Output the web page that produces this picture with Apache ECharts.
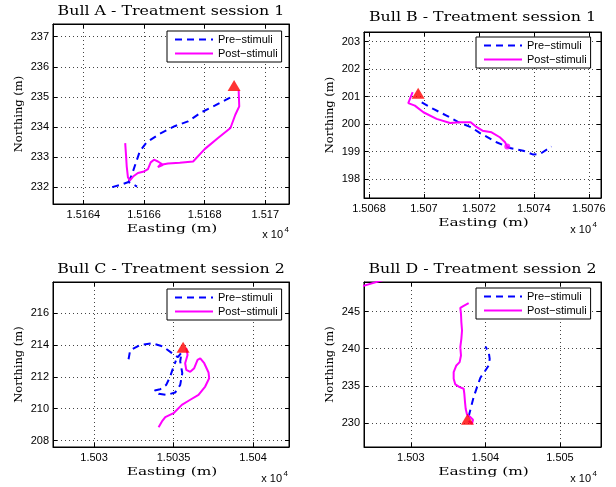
<!DOCTYPE html>
<html>
<head>
<meta charset="utf-8">
<script src="https://cdn.jsdelivr.net/npm/echarts@6/dist/echarts.min.js"></script>
<style>
html, body { margin: 0; padding: 0; background: #fff; }
#chart { width: 616px; height: 487px; }
</style>
</head>
<body>
<div id="chart"></div>
<script>
const seriesNames = ['Pre−stimuli', 'Post−stimuli']
const titles = [
  'Bull A - Treatment session 1',
  'Bull B - Treatment session 1',
  'Bull C - Treatment session 2',
  'Bull D - Treatment session 2'
]
const gap = ['-', '-']

// Bull A (easting, northing in m)
const aPre = [
  [15164.95, 232.01], [15165.25, 232.09], [15165.49, 232.18], [15165.77, 232.03], gap,
  [15165.49, 232.18], [15165.60, 232.42], [15165.71, 232.75], [15165.86, 233.19], [15166.08, 233.49],
  [15166.52, 233.78], [15167.01, 234.03], [15167.45, 234.19], [15167.89, 234.49], [15168.33, 234.71],
  [15168.71, 234.91], [15168.93, 235.02]
]
const aPost = [
  [15169.12, 235.22], [15169.14, 234.69], [15169.01, 234.41], [15168.85, 233.97], [15168.44, 233.64],
  [15168.00, 233.27], [15167.62, 232.86], [15167.18, 232.82], [15166.79, 232.79], [15166.52, 232.74],
  [15166.46, 232.67], [15166.63, 232.75], [15166.46, 232.86], [15166.33, 232.92], [15166.22, 232.83],
  [15166.13, 232.61], [15166.00, 232.53], [15165.80, 232.48], [15165.64, 232.36], [15165.53, 232.23],
  [15165.47, 232.34], [15165.43, 232.70], [15165.41, 233.03], [15165.38, 233.47]
]
const aStart = [[15168.97, 235.38]]
const aXTicks = [15164, 15166, 15168, 15170]
const aYTicks = [232, 233, 234, 235, 236, 237]

// Bull B
const bPre = [
  [15069.92, 200.79], [15070.34, 200.55], [15070.82, 200.31], [15071.25, 200.07], [15071.73, 199.88],
  [15072.04, 199.67], [15072.64, 199.34], [15073.13, 199.13], [15073.61, 199.03], [15073.98, 198.89],
  [15074.22, 198.91], [15074.64, 199.18]
]
const bPost = [
  [15069.59, 201.16], [15069.43, 200.76], [15069.67, 200.67], [15069.98, 200.43], [15070.46, 200.19],
  [15070.95, 200.04], [15071.31, 200.07], [15071.70, 200.07], [15071.89, 199.91], [15072.13, 199.76],
  [15072.46, 199.70], [15072.76, 199.52], [15072.95, 199.34], [15073.03, 199.16]
]
const bStart = [[15069.79, 201.12]]
const bEnd = [[15073.03, 199.18]]
const bXTicks = [15068, 15070, 15072, 15074, 15076]
const bYTicks = [198, 199, 200, 201, 202, 203]

// Bull C
const cPre = [
  [15032.17, 213.10], [15032.27, 213.65], [15032.90, 214.00], [15033.64, 214.10], [15034.33, 213.90],
  [15034.90, 213.48], [15035.27, 213.23], [15035.50, 213.52], [15035.42, 212.96], [15035.55, 212.23],
  [15035.42, 211.49], [15035.10, 211.01], [15034.58, 210.87], [15034.06, 210.93], [15033.81, 211.14],
  [15034.16, 211.22], [15034.54, 211.49], [15034.79, 212.02], [15035.00, 212.64], [15035.15, 213.02]
]
const cPost = [
  [15035.80, 213.79], [15035.88, 213.37], [15035.73, 212.85], [15035.80, 212.43], [15036.05, 212.31],
  [15036.30, 212.54], [15036.51, 213.06], [15036.68, 213.16], [15036.93, 212.85], [15037.20, 212.27],
  [15037.24, 211.91], [15036.99, 211.39], [15036.57, 210.87], [15036.05, 210.56], [15035.52, 210.24],
  [15035.00, 209.72], [15034.48, 209.47], [15034.27, 209.20], [15034.06, 208.84]
]
const cStart = [[15035.6, 213.85]]
const cXTicks = [15030, 15035, 15040]
const cYTicks = [208, 210, 212, 214, 216]

// Bull D
const dPre = [
  [15037.76, 230.87], [15038.08, 232.13], [15038.43, 233.48], [15038.88, 234.82], [15039.33, 236.08],
  [15040.00, 237.06], [15040.45, 237.74], [15040.58, 238.63], [15040.45, 239.53], [15040.00, 240.29]
]
const dPost = [
  [15037.76, 230.25], [15038.21, 229.89], [15038.34, 230.43], [15037.90, 230.87], [15037.54, 231.14],
  [15037.36, 231.91], [15037.27, 232.80], [15037.18, 233.92], [15037.09, 234.60], [15036.55, 234.82],
  [15035.97, 235.18], [15035.75, 235.94], [15035.75, 236.84], [15036.11, 237.74], [15036.55, 238.18],
  [15036.73, 239.08], [15036.64, 240.20], [15036.78, 241.32], [15036.87, 242.44], [15036.78, 243.57],
  [15036.73, 244.69], [15036.64, 245.49], [15037.09, 245.76], [15037.76, 246.12], gap,
  [15022.5, 248.1], [15026.5, 249.3]
]
const dStart = [[15037.6, 230.5]]
const dXTicks = [15030, 15040, 15050]
const dYTicks = [230, 235, 240, 245]

const panels = [
  { box: [53, 24, 236, 180], x: [15163.0, 15170.78], y: [231.45, 237.42], xt: aXTicks, yt: aYTicks,
    legend: [167, 31], titleY: 12, expo: [283, 235], pre: aPre, post: aPost, start: aStart },
  { box: [364, 32, 237, 166], x: [15067.82, 15076.44], y: [197.31, 203.35], xt: bXTicks, yt: bYTicks,
    legend: [476, 37], titleY: 18, expo: [591, 230], pre: bPre, post: bPost, start: bStart, end: bEnd },
  { box: [53, 282, 236, 165], x: [15027.42, 15042.26], y: [207.6, 217.94], xt: cXTicks, yt: cYTicks,
    legend: [167, 289], titleY: 270, expo: [282, 479], pre: cPre, post: cPost, start: cStart },
  { box: [364, 282, 237, 165], x: [15023.73, 15055.5], y: [226.76, 248.97], xt: dXTicks, yt: dYTicks,
    legend: [476, 288], titleY: 270, expo: [591, 479], pre: dPre, post: dPost, start: dStart }
]

const serif = 'DejaVu Serif'
const sans = 'Liberation Sans'
const axisLine = { show: true, onZero: false, lineStyle: { color: '#000', width: 1 } }
const gridLine = { show: true, lineStyle: { type: [1, 3], color: '#444', width: 1 } }

const grid = []
const xAxis = []
const yAxis = []
const legend = []
const series = []
const graphic = []

panels.forEach((p, i) => {
  const [left, top, w, h] = p.box
  grid.push({ left, top, width: w, height: h,
    show: true, borderColor: '#000', borderWidth: 1, backgroundColor: '#fff' })

  xAxis.push({
    gridIndex: i, type: 'value', position: 'bottom', min: p.x[0], max: p.x[1],
    axisLine,
    axisTick: { inside: true, length: 4, customValues: p.xt, lineStyle: { color: '#000' } },
    axisLabel: { customValues: p.xt, formatter: v => String(v / 1e4), fontFamily: sans, fontSize: 11, color: '#000', margin: 5 },
    splitLine: gridLine
  })
  xAxis.push({
    gridIndex: i, type: 'value', position: 'top', min: p.x[0], max: p.x[1], axisLine,
    axisTick: { inside: true, length: 4, customValues: p.xt, lineStyle: { color: '#000' } },
    axisLabel: { show: false }, splitLine: { show: false }
  })
  yAxis.push({
    gridIndex: i, type: 'value', position: 'left', min: p.y[0], max: p.y[1],
    name: 'Northing (m)', nameLocation: 'middle', nameGap: 28,
    nameTextStyle: { fontFamily: serif, fontSize: 11.5, color: '#000' },
    axisLine,
    axisTick: { inside: true, length: 4, customValues: p.yt, lineStyle: { color: '#000' } },
    axisLabel: { customValues: p.yt, fontFamily: sans, fontSize: 11, color: '#000', margin: 4 },
    splitLine: gridLine
  })
  yAxis.push({
    gridIndex: i, type: 'value', position: 'right', min: p.y[0], max: p.y[1], axisLine,
    axisTick: { inside: true, length: 4, customValues: p.yt, lineStyle: { color: '#000' } },
    axisLabel: { show: false }, splitLine: { show: false }
  })

  legend.push({
    data: seriesNames, left: p.legend[0], top: p.legend[1], orient: 'vertical',
    itemWidth: 38, itemHeight: 10, itemGap: 3, padding: [3, 4, 3, 7],
    itemStyle: { opacity: 0 },
    borderColor: '#000', borderWidth: 1, borderRadius: 0, backgroundColor: '#fff',
    textStyle: { fontFamily: sans, fontSize: 11, color: '#000' }, selectedMode: false
  })

  const ax = { xAxisIndex: 2 * i, yAxisIndex: 2 * i }
  series.push({ ...ax, type: 'line', name: seriesNames[0], data: p.pre, symbol: 'none', connectNulls: false,
    lineStyle: { color: '#0000ff', width: 2, type: [7, 5] }, itemStyle: { color: '#0000ff' } })
  series.push({ ...ax, type: 'line', name: seriesNames[1], data: p.post, symbol: 'none', connectNulls: false,
    lineStyle: { color: '#ff00ff', width: 2 }, itemStyle: { color: '#ff00ff' } })
  if (p.end) {
    series.push({ ...ax, type: 'scatter', data: p.end, symbol: 'circle', symbolSize: 6,
      itemStyle: { color: '#ff00ff' }, z: 4 })
  }
  series.push({ ...ax, type: 'scatter', data: p.start, symbol: 'triangle', symbolSize: [13, 11],
    itemStyle: { color: '#ff0000' }, z: 5 })

  // titles and x-axis names: LaTeX-style serif text, rendered wide in the original
  graphic.push({ type: 'text', x: left + w / 2, y: p.titleY, scaleX: 1.32,
    style: { text: titles[i], font: '12px "' + serif + '"', fill: '#000', textAlign: 'center', textVerticalAlign: 'middle' } })
  graphic.push({ type: 'text', x: left + w / 2 + 1, y: top + h + 25, scaleX: 1.4,
    style: { text: 'Easting (m)', font: '11px "' + serif + '"', fill: '#000', textAlign: 'center', textVerticalAlign: 'middle' } })
  graphic.push({ type: 'text', x: p.expo[0], y: p.expo[1],
    style: { text: 'x 10', font: '11px "' + sans + '"', fill: '#000', textAlign: 'right', textVerticalAlign: 'middle' } })
  graphic.push({ type: 'text', x: p.expo[0] + 1.5, y: p.expo[1] - 5,
    style: { text: '4', font: '8px "' + sans + '"', fill: '#000', textAlign: 'left', textVerticalAlign: 'middle' } })
})

const chart = echarts.init(document.getElementById('chart'))
chart.setOption({
  animation: false,
  backgroundColor: '#fff',
  grid, xAxis, yAxis, legend, series, graphic
})
</script>
</body>
</html>
